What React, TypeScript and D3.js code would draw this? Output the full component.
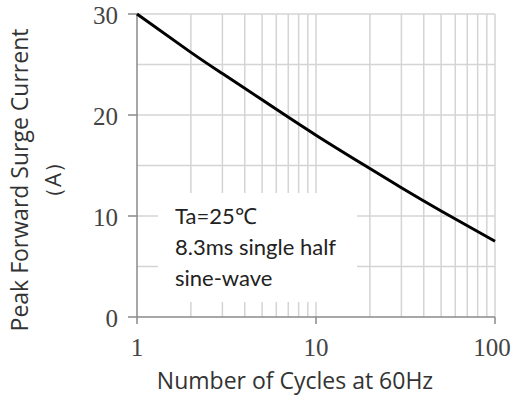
import React from "react";
import * as d3 from "d3";

const cycles = [1, 2, 3, 5, 10, 20, 30, 50, 100];
const current = [30, 26.2, 24.1, 21.5, 18.0, 14.7, 12.8, 10.5, 7.5];
const xTicks = [1, 10, 100];
const yTicks = [0, 10, 20, 30];
const yGrid = [5, 10, 15, 20, 25, 30];
const xGrid = [2, 3, 4, 5, 6, 7, 8, 9, 10, 20, 30, 40, 50, 60, 70, 80, 90, 100];
const noteLines = ["Ta=25℃", "8.3ms single half", "sine-wave"];

export default function App() {
  const W = 519, H = 399;
  const L = 137, R = 495, T = 14, B = 317;
  const x = d3.scaleLog().domain([1, 100]).range([L, R]);
  const y = d3.scaleLinear().domain([0, 30]).range([B, T]);
  const line = d3
    .line<number>()
    .x((_, i) => x(cycles[i]))
    .y((d) => y(d))
    .curve(d3.curveNatural);
  const sans = "Lato, 'Open Sans', sans-serif";
  const title = "'Open Sans', Lato, sans-serif";
  const serif = "'Liberation Serif', 'DejaVu Serif', serif";
  const grid = "#d4d4d4";
  const axis = "#8a8a8a";
  const box = { x0: 158, x1: 357, y0: 193, y1: 302 };
  return (
    <svg width={W} height={H} style={{ position: "absolute", left: 0, top: 0, background: "#fff" }}>
      <rect x={0} y={0} width={W} height={H} fill="#fff" />
      {yGrid.map((v) => (
        <line key={"h" + v} x1={L} x2={R} y1={y(v)} y2={y(v)} stroke={grid} strokeWidth={1.5} />
      ))}
      {xGrid.map((v) => (
        <line key={"v" + v} x1={x(v)} x2={x(v)} y1={T} y2={B} stroke={grid} strokeWidth={1.5} />
      ))}
      <rect x={box.x0} y={box.y0} width={box.x1 - box.x0} height={box.y1 - box.y0} fill="#fff" />
      <line x1={L} x2={L} y1={T} y2={B} stroke={axis} strokeWidth={1.5} />
      <line x1={L} x2={R} y1={B} y2={B} stroke={axis} strokeWidth={1.5} />
      {yTicks.map((v) => (
        <g key={"yt" + v}>
          <line x1={L - 9} x2={L} y1={y(v)} y2={y(v)} stroke={axis} strokeWidth={1.5} />
          <text x={118} y={y(v) + 10} textAnchor="end" fontFamily={serif} fontSize={25} fill="#444">
            {v}
          </text>
        </g>
      ))}
      {xTicks.map((v) => (
        <g key={"xt" + v}>
          <line x1={x(v)} x2={x(v)} y1={B} y2={B + 7} stroke={axis} strokeWidth={1.5} />
          <text x={x(v) - (v === 100 ? 3 : 0)} y={356} textAnchor="middle" fontFamily={serif} fontSize={25} fill="#444">
            {v}
          </text>
        </g>
      ))}
      <path d={line(current) || ""} fill="none" stroke="#000" strokeWidth={3} />
      {noteLines.map((t, i) => (
        <text key={t} x={175} y={224 + i * 31} fontFamily={sans} fontSize={22} fill="#222">
          {t}
        </text>
      ))}
      <text x={295} y={389} textAnchor="middle" fontFamily={title} fontSize={23} fill="#333">
        Number of Cycles at 60Hz
      </text>
      <text transform="translate(28,180) rotate(-90)" textAnchor="middle" fontFamily={title} fontSize={23} fill="#333">
        Peak Forward Surge Current
      </text>
      <text transform="translate(61,180) rotate(-90)" textAnchor="middle" fontFamily={title} fontSize={22} fill="#333">
        （A）
      </text>
    </svg>
  );
}
